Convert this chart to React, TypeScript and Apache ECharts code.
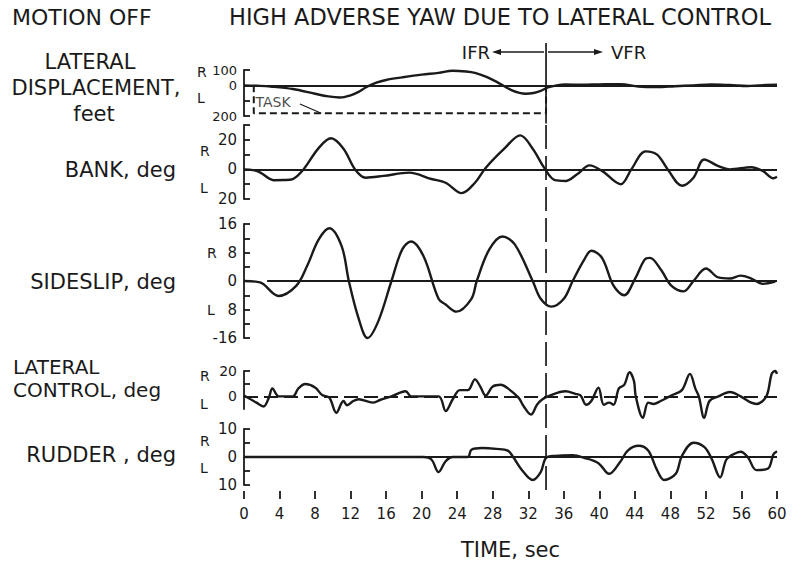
import React, { useEffect, useRef } from "react";
import * as echarts from "echarts";

// ---------- data ----------
const timeMin = 0;
const timeMax = 60;
const timeStep = 4;
const transitionTime = 34; // IFR -> VFR

// lateral displacement, feet (R positive)
const displacement: [number, number][] = [
  [0, 0], [1.5, -3], [3, -8], [5.5, -24], [8, -55], [9.5, -72], [10.8, -79], [12, -65],
  [12.9, -43], [13.7, -14], [14.9, 17], [16, 35], [17.8, 52], [20, 70], [21.9, 81],
  [23.5, 95], [25, 90], [26, 81], [27.3, 55], [28.4, 24], [30.1, -31], [31.7, -55],
  [32.6, -50], [33.4, -36], [34.2, -14], [35.2, 0], [36.2, 5], [38, 4], [40, 6],
  [42.4, 8], [44.4, -8], [46.5, -12], [48.5, -6], [50.6, 0], [52.6, 6], [54.7, 2],
  [56.7, -4], [58, 0], [60, 4],
];
const taskBox: [number, number][] = [[1.1, 0], [1.1, -182], [34, -182], [34, 0]];
const taskLeader: [number, number][] = [[6.3, -122], [8.7, -182]];
const taskLabelAt: [number, number][] = [[1.3, -110]];

// bank, deg
const bank: [number, number][] = [
  [0, 0], [1, -0.5], [1.8, -2], [3.4, -7.3], [4.5, -7.2], [5.5, -6.5], [6.7, 0], [8.4, 14.4],
  [9.8, 21], [11.2, 14], [12.5, 0], [13.7, -5.6], [15.7, -4.4], [18.6, -2.2], [21.1, -6.5],
  [22.7, -9], [24.5, -16], [26, -9], [27.2, 1], [29.3, 14], [31.1, 23], [32.5, 14], [33.8, 1],
  [35, -7.3], [36.2, -7.8], [37.5, -3.3], [38.9, 2.7], [40.3, -1], [42.4, -10], [43.6, 0],
  [45.2, 12.2], [46.5, 10], [47.7, 0], [49.3, -11], [50.6, -5.6], [51.8, 6.7], [53.4, 2.2],
  [54.7, 0], [57.1, 1.5], [58.4, -1], [59.6, -6], [60, -5],
];

// sideslip, deg
const sideslip: [number, number][] = [
  [0, 0], [1.8, -0.4], [3.9, -4.2], [5.9, -1.3], [7.1, 4.2], [8.4, 11.6], [9.6, 14.8],
  [11, 9.7], [11.8, 0], [12.9, -10.5], [13.9, -16], [15.1, -11.4], [16.6, 0], [17.8, 8.8],
  [18.8, 11.1], [20.2, 7], [21.9, -5], [22.7, -6.6], [23.9, -8.6], [25.6, -5], [26.2, 0],
  [27.6, 8.8], [29.1, 12.5], [30.5, 10.2], [32.5, 0], [33.4, -5], [34.6, -7.2], [36, -5],
  [37, 0], [38.3, 6], [39.1, 8.5], [40.3, 6.5], [41.6, -1.3], [42.8, -4], [44, 0.5],
  [45.1, 6], [45.7, 6.5], [46.9, 3.3], [48.1, -1.3], [49.5, -2.9], [50.6, 0], [52, 3.5],
  [53.4, 1], [54.7, 0.7], [55.9, 1.5], [57.1, 0.7], [58.4, -0.8], [59.8, -0.2],
];
const sideslipZeroStart = 2.6;

// lateral control, deg
const lateralControl: [number, number][] = [
  [0, 0.6], [1.4, -5], [2.2, -8], [2.8, -1], [3.2, 6.3], [3.9, 0], [5.5, 0], [6.1, 6],
  [6.9, 9.7], [8, 7], [8.8, 1], [9.6, -1], [10.4, -13], [11.2, -3.7], [11.6, -7], [12.3, -3.7],
  [12.9, -2.3], [14.5, -5], [15.3, -2.9], [16.6, 0], [18.2, 4], [18.8, 0], [21.9, 0],
  [22.7, -11.6], [23.5, -2.3], [24.3, 4.9], [25.2, 4.9], [26, 13.4], [26.6, 7.7], [27.2, 0.6],
  [28, 7.7], [28.9, 9.1], [29.7, 6.3], [30.9, -1], [31.5, -8], [32.3, -14.4], [33, -6.4],
  [33.6, -2.3], [34.2, 0], [36.2, 4], [37.3, 2], [37.9, 0.6], [38.5, -6.6], [39.1, -3.7],
  [39.9, 6.9], [40.5, -6.6], [41.1, -5], [41.6, -6.6], [42.2, 6.3], [42.8, 9], [43.4, 19],
  [43.9, 12], [44.1, 0], [44.9, -17], [45.5, -5], [46.1, -6], [46.9, -3.7], [48.1, 0.6],
  [49.3, 4.9], [50.2, 17.7], [50.8, 6.3], [51.2, 0], [51.8, -17], [52.4, -3.7], [53.4, 0],
  [54.7, 3.4], [55.9, 0], [57.1, -5], [57.7, -6], [58.8, 0], [59.4, 17.7], [59.8, 20], [60, 17.7],
];

// rudder, deg
const rudder: [number, number][] = [
  [0, 0], [20.2, 0], [21.1, -0.9], [21.9, -5.4], [22.7, -1.5], [23.5, 0], [25.2, 0],
  [25.6, 2.6], [26.8, 3.2], [28.4, 2.9], [29.7, 2.3], [30.3, 0], [31.3, -4.7], [32.5, -8.2],
  [33.4, -5.4], [34, -0.3], [35, 0.4], [37, 0.6], [38.3, -0.3], [39.9, -2.2], [41.1, -6],
  [42.4, -1.5], [43.2, 2.3], [44.4, 4], [45.5, 2.3], [46.5, -4.7], [47.3, -8.2], [48.6, -6],
  [49.3, 0.4], [50.6, 5.1], [51.8, 3.6], [52.6, -0.3], [53.6, -7.3], [54.3, -0.9], [55.1, 1],
  [55.9, 1.9], [56.7, 0], [57.7, -4.7], [59, -4.1], [59.6, 1], [60, 2],
];

// tick labels (value -> shown text)
const dispTickLabels: [number, string][] = [[100, "100"], [0, "0"], [-200, "200"]];
const bankTickLabels: [number, string][] = [[20, "20"], [0, "0"], [-20, "20"]];
const sideslipTickLabels: [number, string][] = [[16, "16"], [8, "8"], [0, "0"], [-8, "8"], [-16, "-16"]];
const controlTickLabels: [number, string][] = [[20, "20"], [0, "0"], [-10, "10"]];
const rudderTickLabels: [number, string][] = [[10, "10"], [0, "0"], [-10, "10"]];

// ---------- styling ----------
const INK = "#1a1a1a";
const FONT = "DejaVu Sans";
const LEFT = 244;
const RIGHT = 16;

const panels = [
  { data: displacement, top: 70, height: 46, min: -200, max: 100, interval: 100, labels: dispTickLabels, dashedZero: false, zeroFrom: timeMin, labelSize: 13 },
  { data: bank, top: 125, height: 74, min: -20, max: 30, interval: 10, labels: bankTickLabels, dashedZero: false, zeroFrom: timeMin, labelSize: 15 },
  { data: sideslip, top: 224, height: 114, min: -16, max: 16, interval: 4, labels: sideslipTickLabels, dashedZero: false, zeroFrom: sideslipZeroStart, labelSize: 15 },
  { data: lateralControl, top: 371, height: 38, min: -10, max: 20, interval: 10, labels: controlTickLabels, dashedZero: true, zeroFrom: timeMin, labelSize: 14 },
  { data: rudder, top: 429, height: 56, min: -10, max: 10, interval: 5, labels: rudderTickLabels, dashedZero: false, zeroFrom: timeMin, labelSize: 15 },
];

function txt(text: string, x: number, y: number, size: number, align: string = "left") {
  return {
    type: "text",
    x,
    y,
    silent: true,
    style: { text, fill: INK, fontFamily: FONT, fontSize: size, align, verticalAlign: "middle" },
  };
}

export default function App() {
  const ref = useRef<HTMLDivElement>(null);
  useEffect(() => {
    const chart = echarts.init(ref.current!, null, { renderer: "svg" });

    const grids: any[] = [];
    const xAxes: any[] = [];
    const yAxes: any[] = [];
    const series: any[] = [];

    panels.forEach((p, i) => {
      grids.push({ left: LEFT, right: RIGHT, top: p.top, height: p.height, containLabel: false });
      xAxes.push({ gridIndex: i, type: "value", min: timeMin, max: timeMax, show: false });
      yAxes.push({
        gridIndex: i,
        type: "value",
        min: p.min,
        max: p.max,
        interval: p.interval,
        axisLine: { show: true, lineStyle: { color: INK, width: 1.8 } },
        axisTick: { show: true, inside: true, length: 6, lineStyle: { color: INK, width: 1.8 } },
        splitLine: { show: false },
        axisLabel: {
          color: INK,
          fontFamily: FONT,
          fontSize: p.labelSize,
          margin: 7,
          formatter: (v: number) => {
            const f = p.labels.find((l) => Math.abs(l[0] - v) < 1e-6);
            return f ? f[1] : "";
          },
        },
      });
      series.push({
        type: "line",
        xAxisIndex: i,
        yAxisIndex: i,
        data: p.data,
        showSymbol: false,
        smooth: 0.35,
        clip: false,
        lineStyle: { color: INK, width: 2.4 },
        markLine: {
          silent: true,
          symbol: ["none", "none"],
          label: { show: false },
          lineStyle: { color: INK, width: 1.8, type: p.dashedZero ? [14, 6] : "solid" },
          data: [[{ coord: [p.zeroFrom, 0] }, { coord: [timeMax, 0] }]],
        },
      });
    });

    // task box on displacement panel
    series.push({
      type: "line", xAxisIndex: 0, yAxisIndex: 0, data: taskBox, showSymbol: false, clip: false,
      lineStyle: { color: INK, width: 2, type: [7, 4] },
    });
    series.push({
      type: "line", xAxisIndex: 0, yAxisIndex: 0, data: taskLeader, showSymbol: false, clip: false,
      lineStyle: { color: INK, width: 1.2 },
    });
    series.push({
      type: "scatter", xAxisIndex: 0, yAxisIndex: 0, data: taskLabelAt, symbolSize: 0, clip: false,
      label: { show: true, position: "right", distance: 0, formatter: "TASK", color: INK, fontFamily: FONT, fontSize: 14 },
    });

    // time axis grid
    const gx = panels.length;
    grids.push({ left: LEFT, right: RIGHT, top: 495, height: 8 });
    xAxes.push({
      gridIndex: gx,
      type: "value",
      min: timeMin,
      max: timeMax,
      interval: timeStep,
      position: "bottom",
      axisLine: { show: false },
      axisTick: { show: true, inside: true, length: 8, lineStyle: { color: INK, width: 1.8 } },
      splitLine: { show: false },
      axisLabel: { color: INK, fontFamily: FONT, fontSize: 15, margin: 7 },
      name: "TIME, sec",
      nameLocation: "middle",
      nameGap: 40,
      nameTextStyle: { color: INK, fontFamily: FONT, fontSize: 21 },
    });
    yAxes.push({ gridIndex: gx, type: "value", min: 0, max: 1, show: false });

    // overlay grid for the IFR/VFR transition line
    const go = gx + 1;
    grids.push({ left: LEFT, right: RIGHT, top: 43, height: 447 });
    xAxes.push({ gridIndex: go, type: "value", min: timeMin, max: timeMax, show: false });
    yAxes.push({ gridIndex: go, type: "value", min: 0, max: 1, show: false });
    series.push({
      type: "line", xAxisIndex: go, yAxisIndex: go, showSymbol: false,
      data: [[transitionTime, 0.82], [transitionTime, 1]],
      lineStyle: { color: INK, width: 1.7 },
    });
    series.push({
      type: "line", xAxisIndex: go, yAxisIndex: go, showSymbol: false,
      data: [[transitionTime, 0], [transitionTime, 0.82]],
      lineStyle: { color: INK, width: 1.7, type: [24, 7] },
    });

    const graphics: any[] = [
      txt("MOTION OFF", 12, 17, 22),
      txt("HIGH ADVERSE YAW DUE TO LATERAL CONTROL", 229, 17, 22.5),
      // IFR / VFR
      txt("IFR", 490, 52, 18, "right"),
      txt("VFR", 611, 52, 18, "left"),
      { type: "line", silent: true, shape: { x1: 496, y1: 52, x2: 544, y2: 52 }, style: { stroke: INK, lineWidth: 1.5 } },
      { type: "line", silent: true, shape: { x1: 548, y1: 52, x2: 596, y2: 52 }, style: { stroke: INK, lineWidth: 1.5 } },
      { type: "polygon", silent: true, shape: { points: [[492, 52], [501, 49], [501, 55]] }, style: { fill: INK } },
      { type: "polygon", silent: true, shape: { points: [[603, 52], [594, 49], [594, 55]] }, style: { fill: INK } },
      // panel labels
      txt("LATERAL", 90, 62, 21, "center"),
      txt("DISPLACEMENT,", 96, 88, 21, "center"),
      txt("feet", 94, 114, 21, "center"),
      txt("BANK, deg", 176, 170, 21, "right"),
      txt("SIDESLIP, deg", 176, 282, 21, "right"),
      txt("LATERAL", 13, 367, 20, "left"),
      txt("CONTROL, deg", 13, 390, 20, "left"),
      txt("RUDDER , deg", 176, 455, 21, "right"),
      // R / L markers
      txt("R", 197, 72, 14), txt("L", 197, 98, 14),
      txt("R", 200, 151, 14), txt("L", 200, 188, 14),
      txt("R", 207, 253, 14), txt("L", 207, 310, 14),
      txt("R", 200, 376, 14), txt("L", 200, 404, 14),
      txt("R", 200, 441, 14), txt("L", 200, 468, 14),
    ];

    chart.setOption({
      animation: false,
      backgroundColor: "#ffffff",
      grid: grids,
      xAxis: xAxes,
      yAxis: yAxes,
      series,
      graphic: graphics,
    });
    return () => chart.dispose();
  }, []);
  return (
    <div
      ref={ref}
      style={{ position: "fixed", left: 0, top: 0, width: 793, height: 561, background: "#fff" }}
    />
  );
}
